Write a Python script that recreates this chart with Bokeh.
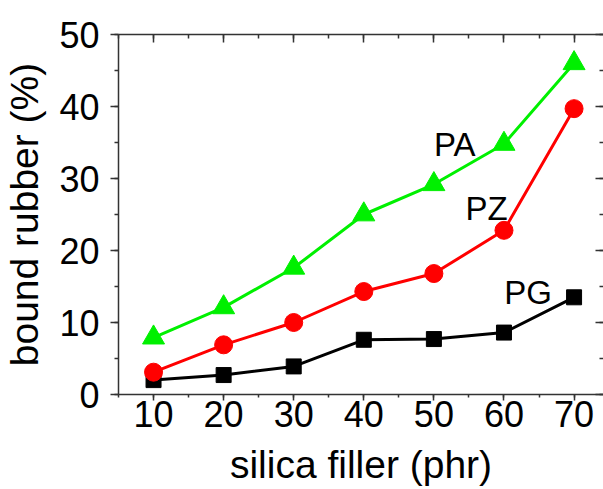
from bokeh.plotting import figure
from bokeh.models import LinearAxis, SingleIntervalTicker, ColumnDataSource, CustomJSTickFormatter
from bokeh.embed import file_html
from bokeh.resources import INLINE
from bokeh.core.properties import value

# ---- data ----
filler = [10, 20, 30, 40, 50, 60, 70]
pa = [7.9, 12.1, 17.6, 25.0, 29.2, 34.8, 46.0]
pz = [3.1, 6.9, 10.0, 14.3, 16.8, 22.8, 39.7]
pg = [2.0, 2.7, 3.9, 7.6, 7.7, 8.6, 13.5]
series_names = ["PA", "PZ", "PG"]
name_x = [50.0, 54.5, 60.05]
name_y = [34.7, 25.8, 14.2]
x_label = "silica filler (phr)"
y_label = "bound rubber (%)"

FONT = "Liberation Sans"
AXC = "#333333"

p = figure(width=603, height=489, x_range=(5, 74.2), y_range=(0, 50),
           output_backend="svg", toolbar_location=None,
           min_border_left=116, min_border_top=34, min_border_bottom=95,
           min_border_right=0, outline_line_color=None,
           x_axis_location=None, y_axis_location=None)
p.xgrid.visible = False
p.ygrid.visible = False

def style_axis(ax, tick_in, tick_out, minor_in, minor_out, labels=True):
    ax.axis_line_color = AXC
    ax.axis_line_width = 1.5
    ax.major_tick_line_color = AXC
    ax.minor_tick_line_color = AXC
    ax.major_tick_line_width = 1.5
    ax.minor_tick_line_width = 1.5
    ax.major_tick_in = tick_in
    ax.major_tick_out = tick_out
    ax.minor_tick_in = minor_in
    ax.minor_tick_out = minor_out
    if labels:
        ax.major_label_text_font = FONT
        ax.major_label_text_font_size = "36px"
        ax.major_label_text_color = "black"
        ax.axis_label_text_font = FONT
        ax.axis_label_text_font_size = "39px"
        ax.axis_label_text_font_style = "normal"
        ax.axis_label_text_color = "black"
    else:
        ax.formatter = CustomJSTickFormatter(code="return ''")
        ax.major_label_standoff = 0

xt = lambda: SingleIntervalTicker(interval=10, num_minor_ticks=2)

bottom = LinearAxis(ticker=xt(), axis_label=x_label)
style_axis(bottom, 0, 6, 0, 3)
bottom.major_label_standoff = 0
bottom.axis_label_standoff = 13
p.add_layout(bottom, "below")

left = LinearAxis(ticker=xt(), axis_label=y_label)
style_axis(left, 0, 8, 0, 4)
left.major_label_standoff = 11
left.axis_label_standoff = 10
p.add_layout(left, "left")

top = LinearAxis(ticker=xt())
style_axis(top, 8, 0, 4, 0, labels=False)
p.add_layout(top, "above")

right = LinearAxis(ticker=xt())
style_axis(right, 8, 0, 4, 0, labels=False)
right.axis_line_color = None
p.add_layout(right, "right")

src = ColumnDataSource(dict(x=filler, pa=pa, pz=pz, pg=pg))

p.line("x", "pg", source=src, line_color="black", line_width=3)
p.scatter("x", "pg", source=src, marker="square", size=15, fill_color="black", line_color="black")

p.line("x", "pz", source=src, line_color="#ff0000", line_width=3)
p.scatter("x", "pz", source=src, marker="circle", size=18, fill_color="#ff0000", line_color="#ff0000")

p.line("x", "pa", source=src, line_color="#00f000", line_width=3)
p.scatter("x", "pa", source=src, marker="triangle", size=22, fill_color="#00f000", line_color="#00f000")

lab = ColumnDataSource(dict(x=name_x, y=name_y, t=series_names))
p.text("x", "y", text="t", source=lab, text_font=value(FONT), text_font_size="33px",
       text_align="left", text_baseline="alphabetic", text_color="black")

open("out.html", "w").write(file_html(p, INLINE))
